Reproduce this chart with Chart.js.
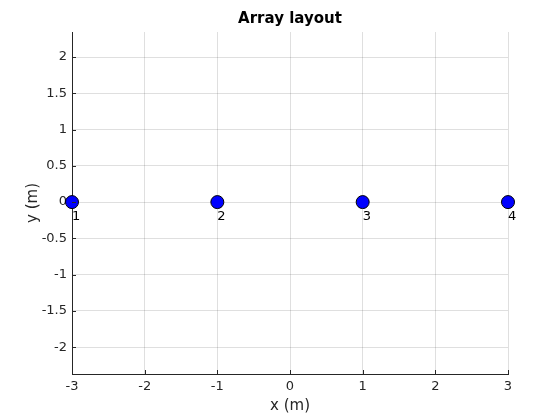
<!DOCTYPE html>
<html>
<head>
<meta charset="utf-8">
<script src="https://cdn.jsdelivr.net/npm/chart.js@4"></script>
<style>
  html, body { margin: 0; padding: 0; background: #fff; }
  #wrap { width: 560px; height: 420px; }
</style>
</head>
<body>
<div id="wrap"><canvas id="chart" width="560" height="420"></canvas></div>
<script>
// sensor positions (m)
const xPos = [-3, -1, 1, 3];
const yPos = [0, 0, 0, 0];
const sensorLabels = ['1', '2', '3', '4'];
const xTicks = [-3, -2, -1, 0, 1, 2, 3];
const yTicks = [-2, -1.5, -1, -0.5, 0, 0.5, 1, 1.5, 2];

const axisColor = '#262626';
const gridColor = 'rgba(38,38,38,0.15)';
const fontFamily = '"DejaVu Sans", sans-serif';

// MATLAB style inward ticks on left and bottom axes
const innerTicks = {
  id: 'innerTicks',
  afterDatasetsDraw(chart) {
    const { ctx, chartArea, scales } = chart;
    ctx.save();
    ctx.strokeStyle = axisColor;
    ctx.lineWidth = 1;
    ctx.beginPath();
    xTicks.forEach(v => {
      const px = Math.round(scales.x.getPixelForValue(v)) + 0.5;
      ctx.moveTo(px, chartArea.bottom);
      ctx.lineTo(px, chartArea.bottom - 4);
    });
    yTicks.forEach(v => {
      const py = Math.round(scales.y.getPixelForValue(v)) + 0.5;
      ctx.moveTo(chartArea.left, py);
      ctx.lineTo(chartArea.left + 4, py);
    });
    ctx.stroke();
    ctx.restore();
  }
};

// numbers under each sensor
const pointLabels = {
  id: 'pointLabels',
  afterDatasetsDraw(chart) {
    const { ctx } = chart;
    const meta = chart.getDatasetMeta(0);
    ctx.save();
    ctx.font = '13px ' + fontFamily;
    ctx.fillStyle = '#000';
    ctx.textAlign = 'left';
    ctx.textBaseline = 'middle';
    meta.data.forEach((pt, i) => {
      ctx.fillText(sensorLabels[i], pt.x, pt.y + 15);
    });
    ctx.restore();
  }
};

new Chart(document.getElementById('chart'), {
  type: 'scatter',
  data: {
    datasets: [{
      data: xPos.map((x, i) => ({ x, y: yPos[i] })),
      backgroundColor: '#0000ff',
      borderColor: '#000',
      borderWidth: 1,
      pointRadius: 6.5,
      pointHoverRadius: 6.5,
      clip: false
    }]
  },
  options: {
    responsive: false,
    animation: false,
    layout: { padding: { top: 0, right: 52, bottom: 0, left: 0 } },
    plugins: {
      legend: { display: false },
      tooltip: { enabled: false },
      title: {
        display: true,
        fullSize: false,
        text: 'Array layout',
        color: '#000',
        font: { family: fontFamily, size: 15, weight: 'bold', lineHeight: 1.2 },
        padding: { top: 10, bottom: 4 }
      }
    },
    scales: {
      x: {
        type: 'linear',
        min: -3,
        max: 3,
        afterBuildTicks: s => { s.ticks = xTicks.map(v => ({ value: v })); },
        afterFit: s => { s.height = 46; },
        grid: { color: gridColor, drawTicks: false },
        border: { color: axisColor, width: 1 },
        ticks: {
          color: axisColor,
          padding: 5,
          font: { family: fontFamily, size: 13 },
          callback: v => String(v)
        },
        title: {
          display: true,
          text: 'x (m)',
          color: axisColor,
          font: { family: fontFamily, size: 15, lineHeight: 1.2 },
          padding: { top: 0, bottom: 5 }
        }
      },
      y: {
        type: 'linear',
        min: -2.37,
        max: 2.345,
        afterBuildTicks: s => { s.ticks = yTicks.map(v => ({ value: v })); },
        afterFit: s => { s.width = 72; },
        grid: { color: gridColor, drawTicks: false },
        border: { color: axisColor, width: 1 },
        ticks: {
          color: axisColor,
          padding: 5,
          font: { family: fontFamily, size: 13 },
          callback: v => String(v)
        },
        title: {
          display: true,
          text: 'y (m)',
          color: axisColor,
          font: { family: fontFamily, size: 15, lineHeight: 1.2 },
          padding: { top: 24, bottom: 0 }
        }
      }
    }
  },
  plugins: [innerTicks, pointLabels]
});
</script>
</body>
</html>
